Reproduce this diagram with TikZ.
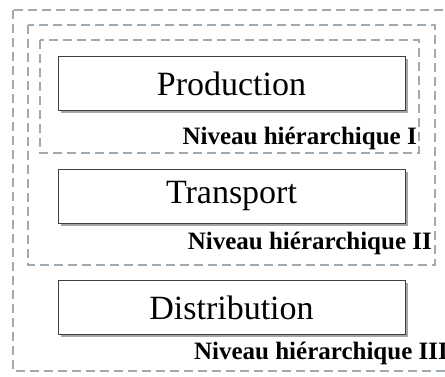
\documentclass[tikz,border=0pt]{standalone}
\usepackage{fontspec}
\setmainfont{Liberation Serif}
\usetikzlibrary{shadows,positioning}
\definecolor{niveaugris}{RGB}{160,170,178}

\begin{document}
\begin{tikzpicture}[x=1pt, y=-1pt,
    etape/.style={draw=black!75, fill=white, line width=0.9pt,
        minimum width=347pt, minimum height=54pt,
        font=\fontsize{34}{38}\selectfont,
        drop shadow={shadow xshift=2.5pt, shadow yshift=-2.5pt, opacity=0.7}},
    niveau/.style={draw=niveaugris, line width=2.2pt, dash pattern=on 9pt off 5pt},
    niveautexte/.style={anchor=east, inner sep=0pt, font=\fontsize{25}{28}\selectfont\bfseries}]
    \useasboundingbox (0, 0) rectangle (445, 376);
    % niveaux
    \draw[niveau] (13, 10) rectangle (448, 371);
    \draw[niveau] (28, 25) rectangle (435, 265);
    \draw[niveau] (40, 40) rectangle (419, 153);
    % etapes
    \node[etape] (production) at (231.5, 83.5) {Production};
    \node[etape] (transport) at (231.5, 196) {Transport};
    \node[etape] (distribution) at (231.5, 307.5) {Distribution};
    \node[niveautexte] (niveauI) at (417, 138) {Niveau hiérarchique I};
    \node[niveautexte] (niveauII) at (432, 243) {Niveau hiérarchique II};
    \node[niveautexte] (niveauIII) at (448, 353) {Niveau hiérarchique III};
\end{tikzpicture}
\end{document}
